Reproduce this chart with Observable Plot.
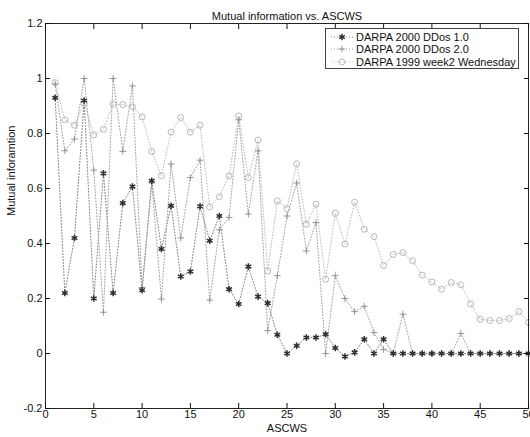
<!DOCTYPE html>
<html><head><meta charset="utf-8">
<script src="https://cdn.jsdelivr.net/npm/d3@7"></script>
<script src="https://cdn.jsdelivr.net/npm/@observablehq/plot@0.6"></script>
<style>
body{margin:0;background:#fff;font-family:"Liberation Sans",Arial,sans-serif;}
#wrap{position:relative;width:530px;height:437px;}
#legend{position:absolute;left:325px;top:28px;width:192px;height:39px;border:1px solid #444;background:#fff;font-size:11px;color:#111;}
#legend .row{position:absolute;left:0;height:12px;line-height:12px;}
#legend svg{position:absolute;left:2px;top:0;}
#legend span{position:absolute;left:30px;white-space:nowrap;}
</style></head>
<body><div id="wrap"></div>
<script>
const ascws = [1,2,3,4,5,6,7,8,9,10,11,12,13,14,15,16,17,18,19,20,21,22,23,24,25,26,27,28,29,30,31,32,33,34,35,36,37,38,39,40,41,42,43,44,45,46,47,48,49,50];
const ddos1 = [0.93,0.22,0.42,0.92,0.20,0.655,0.22,0.547,0.607,0.23,0.628,0.38,0.537,0.28,0.298,0.535,0.41,0.50,0.234,0.18,0.316,0.207,0.183,0.068,0.0,0.028,0.058,0.058,0.07,0.02,-0.011,0.004,0.052,0.0,0.052,0,0,0,0,0,0,0,0,0,0,0,0,0,0,0];
const ddos2 = [0.98,0.737,0.78,1.0,0.667,0.15,1.0,0.735,0.973,0.24,0.62,0.198,0.689,0.42,0.64,0.703,0.194,0.45,0.495,0.85,0.507,0.737,0.083,0.283,0.50,0.62,0.373,0.476,0.0,0.283,0.20,0.152,0.172,0.076,0.015,0,0.143,0,0,0,0,0,0.073,0,0,0,0,0,0,0];
const week2 = [0.985,0.85,0.83,0.91,0.795,0.815,0.907,0.905,0.897,0.86,0.735,0.646,0.805,0.858,0.805,0.83,0.533,0.57,0.646,0.864,0.64,0.776,0.30,0.555,0.527,0.69,0.47,0.543,0.27,0.51,0.398,0.55,0.452,0.425,0.32,0.36,0.367,0.337,0.285,0.26,0.234,0.258,0.25,0.18,0.125,0.12,0.12,0.127,0.152,0.113];
const seriesNames = ["DARPA 2000 DDos 1.0","DARPA 2000 DDos 2.0","DARPA 1999 week2 Wednesday"];
const xTicks = [0,5,10,15,20,25,30,35,40,45,50];
const yTicks = [-0.2,0,0.2,0.4,0.6,0.8,1,1.2];
const titleText = "Mutual information vs. ASCWS";
const xLabel = "ASCWS";
const yLabel = "Mutual inforamtion";

const styles = [
  {line:"#808080", dot:"#2e2e2e", symbol:"asterisk", r:3.1, sw:1.5},
  {line:"#a0a0a0", dot:"#8a8a8a", symbol:"plus", r:2.3, sw:0.9},
  {line:"#c0c0c0", dot:"#b0b0b0", symbol:"circle", r:3, sw:0.9}
];
const allSeries = [ddos1, ddos2, week2];
const rows = allSeries.map(vals => ascws.map((x,i)=>({x, y: vals[i]})));

const fmt = d => String(+d.toFixed(1));
const marks = [];
rows.forEach((data, k) => {
  const st = styles[k];
  marks.push(Plot.line(data, {x:"x", y:"y", stroke: st.line, strokeWidth: 1, strokeDasharray: "1,2"}));
});
rows.slice().reverse().forEach((data, kk) => {
  const k = 2 - kk; const st = styles[k];
  marks.push(Plot.dot(data, {x:"x", y:"y", symbol: st.symbol, r: st.r, stroke: st.dot, strokeWidth: st.sw, fill: "none"}));
});

const chart = Plot.plot({
  width: 530, height: 437,
  marginLeft: 45, marginRight: 2, marginTop: 23, marginBottom: 29,
  style: {fontFamily: '"Liberation Sans", Arial, sans-serif', fontSize: "11px", background: "#fff", color: "#111"},
  x: {domain: [0, 50]},
  y: {domain: [-0.2, 1.2]},
  marks: [
    ...marks,
    Plot.frame({stroke: "#222"}),
    Plot.axisX({anchor: "bottom", ticks: xTicks, tickSize: -5, tickPadding: 7, tickFormat: fmt, label: null, fontSize: 11}),
    Plot.axisX({anchor: "top", ticks: xTicks, tickSize: -5, tickFormat: () => "", label: null}),
    Plot.axisY({anchor: "left", ticks: yTicks, tickSize: -5, tickPadding: 8, tickFormat: fmt, label: null, fontSize: 11}),
    Plot.axisY({anchor: "right", ticks: yTicks, tickSize: -5, tickFormat: () => "", label: null}),
    Plot.text([titleText], {frameAnchor: "top", dy: -11, fontSize: 11, fill: "#111"}),
    Plot.text([xLabel], {frameAnchor: "bottom", dy: 23, fontSize: 11, fill: "#111"}),
    Plot.text([yLabel], {frameAnchor: "left", dx: -34, rotate: -90, fontSize: 11, fill: "#111"})
  ]
});
const wrap = document.getElementById("wrap");
wrap.appendChild(chart);

// legend
const leg = document.createElement("div");
leg.id = "legend";
seriesNames.forEach((name, k) => {
  const st = styles[k];
  const row = document.createElement("div");
  row.className = "row";
  row.style.top = (2 + k*12.3) + "px";
  row.style.width = "190px";
  const svg = d3.create("svg").attr("width", 26).attr("height", 12);
  svg.append("line").attr("x1", 3).attr("x2", 25).attr("y1", 6).attr("y2", 6)
     .attr("stroke", st.line).attr("stroke-dasharray", "1,2");
  const sym = {asterisk: d3.symbolAsterisk, plus: d3.symbolPlus, circle: d3.symbolCircle}[st.symbol];
  svg.append("path").attr("transform", "translate(14,6)")
     .attr("d", d3.symbol(sym, Math.PI * st.r * st.r)())
     .attr("fill", "none").attr("stroke", st.dot).attr("stroke-width", st.sw);
  row.appendChild(svg.node());
  const sp = document.createElement("span");
  sp.textContent = name;
  row.appendChild(sp);
  leg.appendChild(row);
});
wrap.appendChild(leg);
</script>
</body></html>
